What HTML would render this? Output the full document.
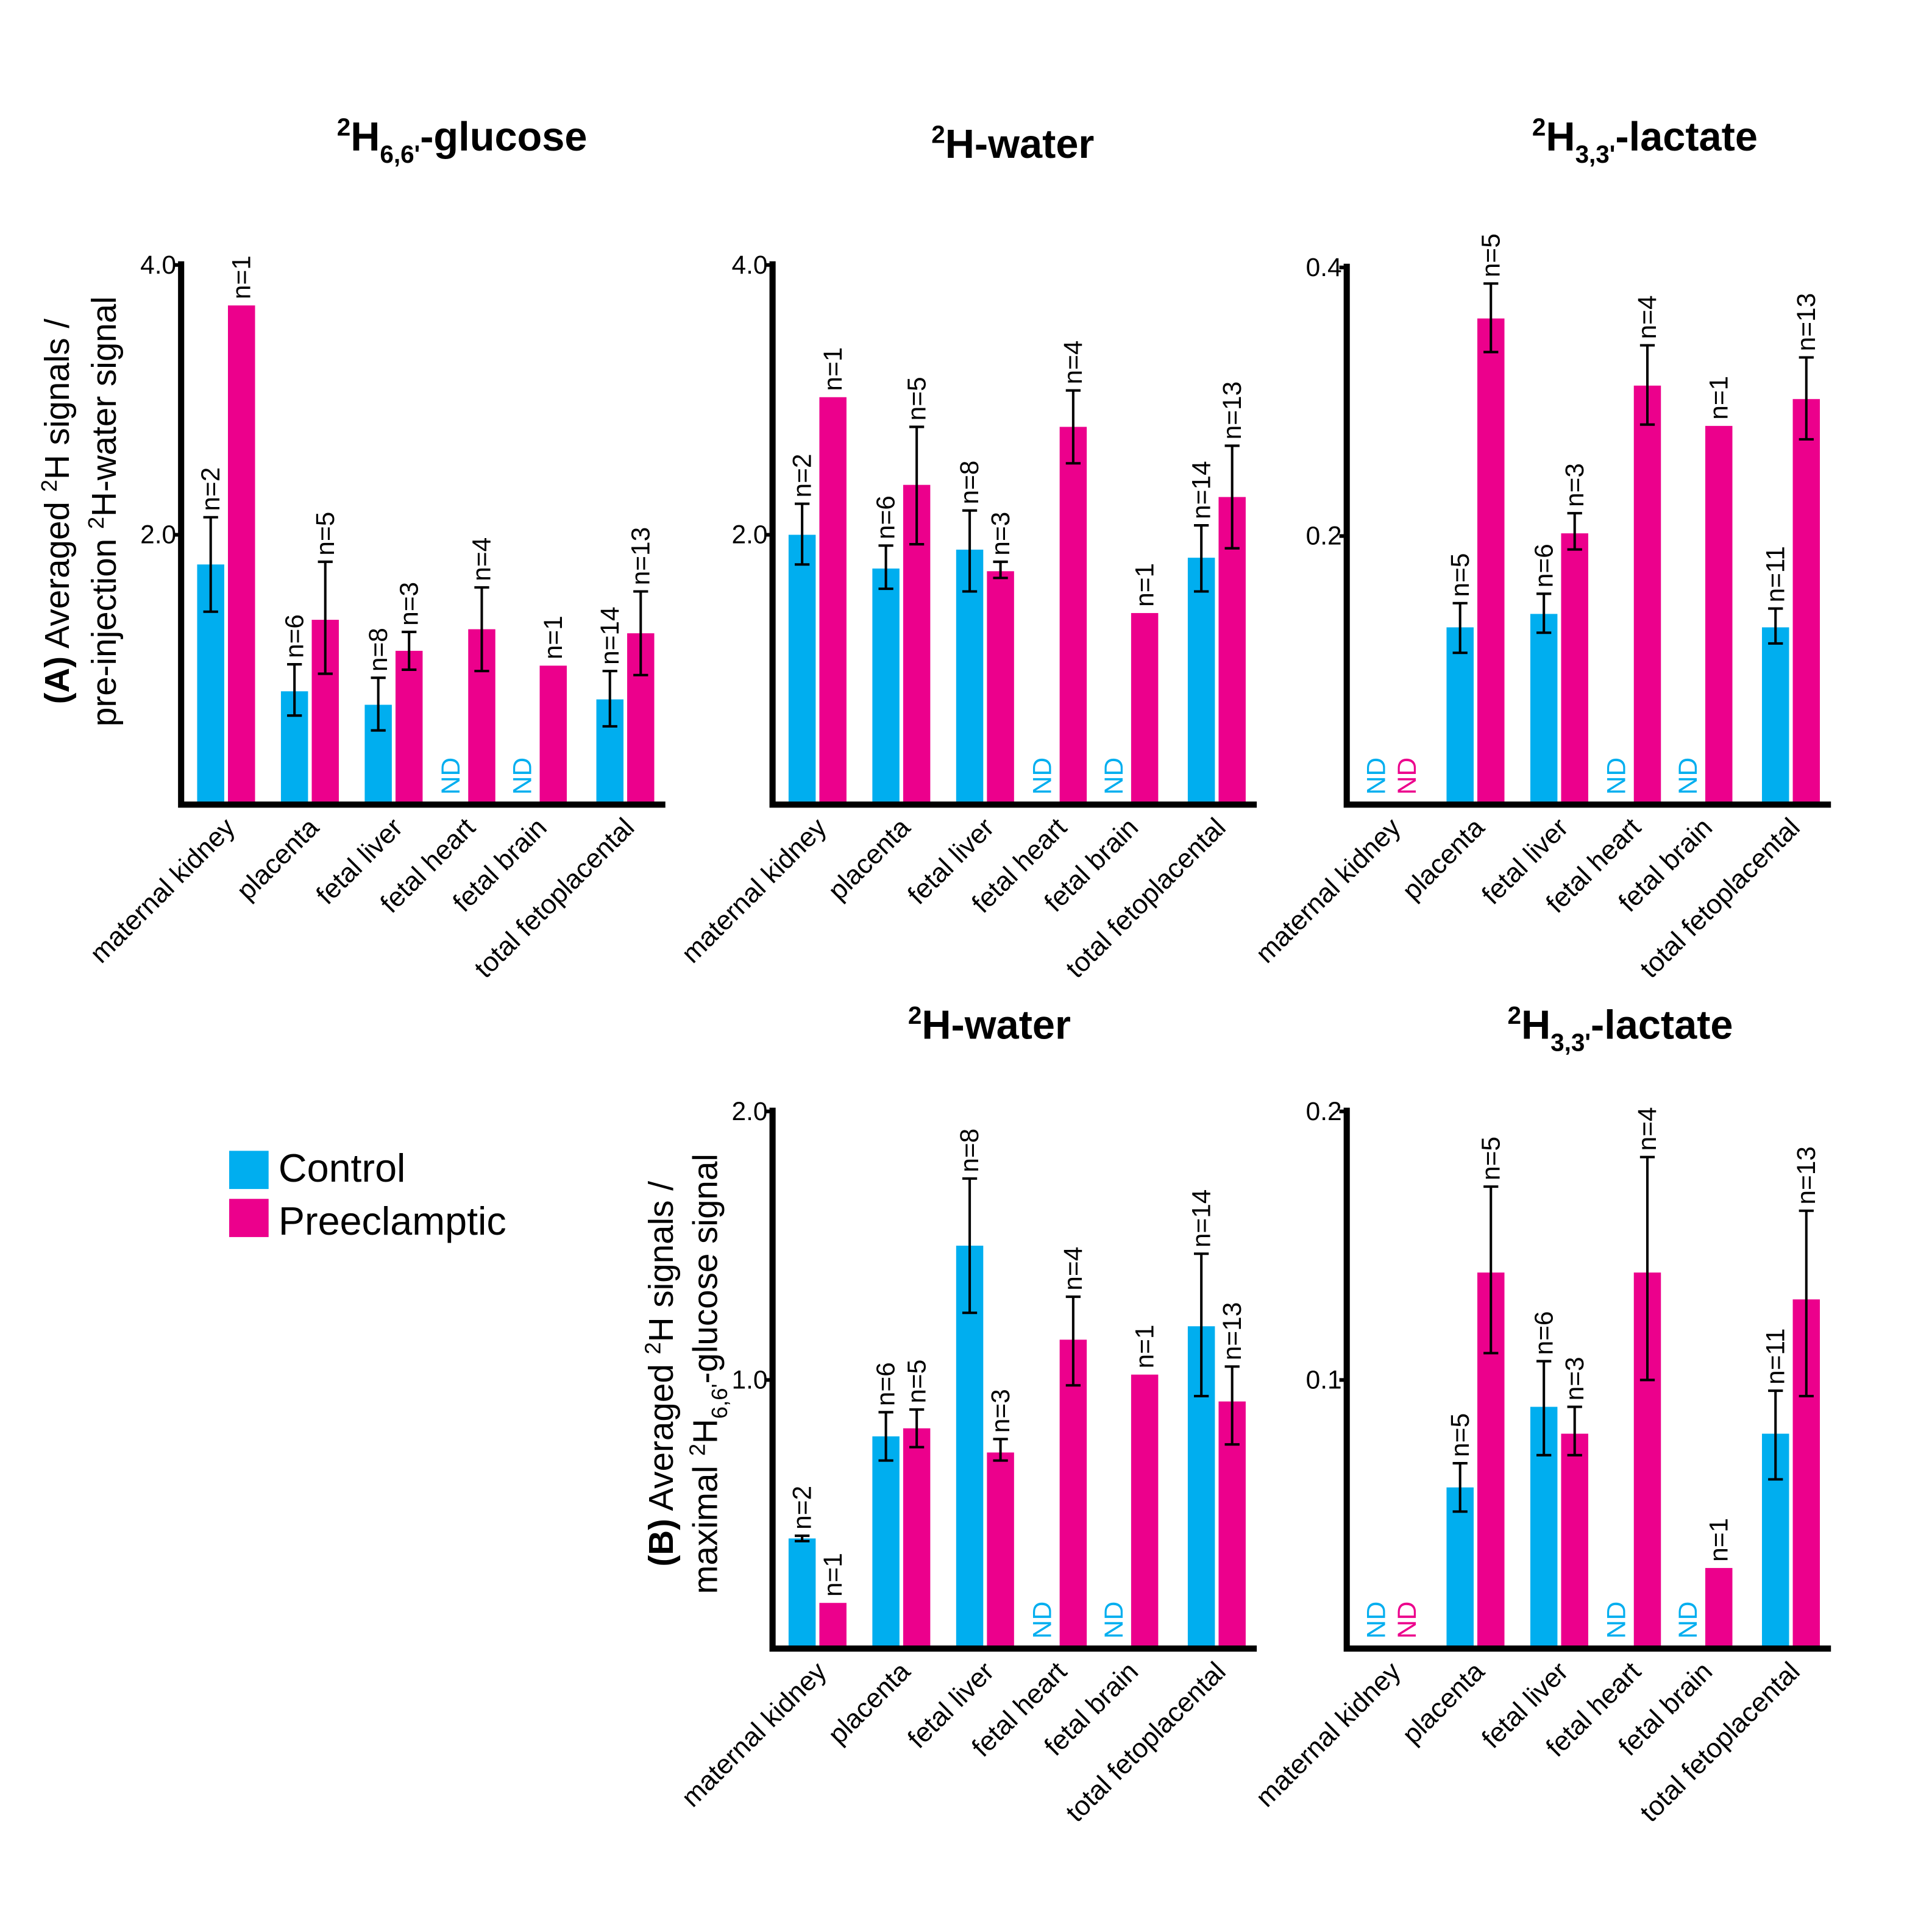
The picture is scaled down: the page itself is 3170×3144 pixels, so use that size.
<!DOCTYPE html>
<html><head><meta charset="utf-8"><style>
html,body{margin:0;padding:0;background:#fff}
svg{display:block}
text{font-family:"Liberation Sans",Arial,sans-serif}
</style></head><body>
<svg id="chart" xmlns="http://www.w3.org/2000/svg" width="3170" height="3144" viewBox="0 0 1568 1555">
<rect width="1568" height="1555" fill="#fff"/>
<g>
<rect x="186" y="934" width="32" height="31" fill="#00AEEF"/>
<text x="226" y="959" font-size="32">Control</text>
<rect x="186" y="973" width="32" height="31" fill="#EC008C"/>
<text x="226" y="1002" font-size="32">Preeclamptic</text>
</g>
<g transform="translate(56,415) rotate(-90)"><text text-anchor="middle" font-size="28"><tspan font-weight="bold">(A)</tspan> Averaged  <tspan dy="-10" font-size="18">2</tspan><tspan dy="10">H signals /</tspan></text></g>
<g transform="translate(94,415) rotate(-90)"><text text-anchor="middle" font-size="28">pre-injection <tspan dy="-10" font-size="18">2</tspan><tspan dy="10">H-water signal</tspan></text></g>
<g transform="translate(546,1115) rotate(-90)"><text text-anchor="middle" font-size="28"><tspan font-weight="bold">(B)</tspan> Averaged <tspan dy="-10" font-size="18">2</tspan><tspan dy="10">H signals /</tspan></text></g>
<g transform="translate(582,1115) rotate(-90)"><text text-anchor="middle" font-size="28">maximal <tspan dy="-10" font-size="18">2</tspan><tspan dy="10">H</tspan><tspan dy="8" font-size="18">6,6'</tspan><tspan dy="-8">-glucose signal</tspan></text></g>
</svg>
<script>
const categories=["maternal kidney","placenta","fetal liver","fetal heart","fetal brain","total fetoplacental"];
// Panel A1: 2H6,6'-glucose
const a1Control=[1.78,0.84,0.74,null,null,0.78];
const a1ControlLo=[1.43,0.66,0.55,null,null,0.58];
const a1ControlHi=[2.13,1.04,0.94,null,null,0.99];
const a1ControlN=["n=2","n=6","n=8","","","n=14"];
const a1Pre=[3.7,1.37,1.14,1.3,1.03,1.27];
const a1PreLo=[null,0.97,1.0,0.99,null,0.96];
const a1PreHi=[null,1.8,1.28,1.61,null,1.58];
const a1PreN=["n=1","n=5","n=3","n=4","n=1","n=13"];
const a1Ticks=["2.0","4.0"];
// Panel A2: 2H-water
const a2Control=[2.0,1.75,1.89,null,null,1.83];
const a2ControlLo=[1.78,1.6,1.58,null,null,1.58];
const a2ControlHi=[2.23,1.92,2.18,null,null,2.07];
const a2ControlN=["n=2","n=6","n=8","","","n=14"];
const a2Pre=[3.02,2.37,1.73,2.8,1.42,2.28];
const a2PreLo=[null,1.93,1.68,2.53,null,1.9];
const a2PreHi=[null,2.8,1.8,3.07,null,2.66];
const a2PreN=["n=1","n=5","n=3","n=4","n=1","n=13"];
const a2Ticks=["2.0","4.0"];
// Panel A3: 2H3,3'-lactate
const a3Control=[null,0.132,0.142,null,null,0.132];
const a3ControlLo=[null,0.113,0.128,null,null,0.12];
const a3ControlHi=[null,0.15,0.157,null,null,0.146];
const a3ControlN=["","n=5","n=6","","","n=11"];
const a3Pre=[null,0.362,0.202,0.312,0.282,0.302];
const a3PreLo=[null,0.337,0.19,0.283,null,0.272];
const a3PreHi=[null,0.388,0.217,0.342,null,0.333];
const a3PreN=["","n=5","n=3","n=4","n=1","n=13"];
const a3Ticks=["0.2","0.4"];
// Panel B1: 2H-water / glucose
const b1Control=[0.41,0.79,1.5,null,null,1.2];
const b1ControlLo=[0.4,0.7,1.25,null,null,0.94];
const b1ControlHi=[0.42,0.88,1.75,null,null,1.47];
const b1ControlN=["n=2","n=6","n=8","","","n=14"];
const b1Pre=[0.17,0.82,0.73,1.15,1.02,0.92];
const b1PreLo=[null,0.75,0.7,0.98,null,0.76];
const b1PreHi=[null,0.89,0.78,1.31,null,1.05];
const b1PreN=["n=1","n=5","n=3","n=4","n=1","n=13"];
const b1Ticks=["1.0","2.0"];
// Panel B2: 2H3,3'-lactate / glucose
const b2Control=[null,0.06,0.09,null,null,0.08];
const b2ControlLo=[null,0.051,0.072,null,null,0.063];
const b2ControlHi=[null,0.069,0.107,null,null,0.096];
const b2ControlN=["","n=5","n=6","","","n=11"];
const b2Pre=[null,0.14,0.08,0.14,0.03,0.13];
const b2PreLo=[null,0.11,0.072,0.1,null,0.094];
const b2PreHi=[null,0.172,0.09,0.183,null,0.163];
const b2PreN=["","n=5","n=3","n=4","n=1","n=13"];
const b2Ticks=["0.1","0.2"];

const NS="http://www.w3.org/2000/svg";
const svg=document.getElementById('chart');
function mk(tag,attrs,parent){const e=document.createElementNS(NS,tag);for(const k in attrs)e.setAttribute(k,attrs[k]);(parent||svg).appendChild(e);return e;}
const groupOffsets=[13,81,149,208,266,337];

function panel(o){
  const g=mk('g',{});
  
  
  const x0=o.x0, base=o.base, top=o.top, max=o.max;
  const y=v=>base-(v/max)*(base-top);
  const gx=i=>x0+groupOffsets[i];
  const bw=22;
  const t=mk('text',{x:o.tx,y:o.ty,'text-anchor':'middle','font-size':33,'font-weight':'bold'},g);
  
  
  t.innerHTML=o.title;
  const series=[[o.c,o.cLo,o.cHi,o.cN,'#00AEEF',0],[o.p,o.pLo,o.pHi,o.pN,'#EC008C',1]];
  categories.forEach((cat,i)=>{
    series.forEach(s=>{
      const v=s[0][i], bx=gx(i)+s[5]*(bw+3), cx=bx+bw/2;
      if(v==null){
        const nd=mk('text',{transform:`translate(${cx+7},${base-8}) rotate(-90)`,'font-size':21,fill:s[4]},g);
        
        
        nd.textContent='ND';
        return;
      }
      const r=mk('rect',{x:bx,y:y(v),width:bw,height:base-y(v),fill:s[4]},g);
      
      
      let topY=y(v);
      if(s[1][i]!=null){
        const lo=y(s[1][i]),hi=y(s[2][i]);
        const eb=mk('path',{d:`M${cx},${lo}V${hi}M${cx-6},${lo}H${cx+6}M${cx-6},${hi}H${cx+6}`,stroke:'#000','stroke-width':2,fill:'none'},g);
        
        
        topY=Math.min(topY,hi);
      }
      if(s[3][i]){
        const n=mk('text',{transform:`translate(${cx+7},${topY-5}) rotate(-90)`,'font-size':21},g);
        
        
        n.textContent=s[3][i];
      }
    });
    const cl=mk('text',{transform:`translate(${gx(i)+32},${base+20}) rotate(-45)`,'text-anchor':'end','font-size':22},g);
    
    
    cl.textContent=cat;
  });
  const ax=mk('path',{d:`M${x0},${top-3}V${base}H${x0+393}`,stroke:'#000','stroke-width':5,fill:'none'},g);
  
  
  o.ticks.forEach(tl=>{
    const ty=y(parseFloat(tl));
    const tk=mk('line',{x1:x0-6,x2:x0,y1:ty,y2:ty,stroke:'#000','stroke-width':3},g);
    
    
    const tt=mk('text',{x:x0-4,y:ty+7,'text-anchor':'end','font-size':21},g);
    
    
    tt.textContent=tl;
  });
}
const sup2='<tspan dy="-12" font-size="20">2</tspan><tspan dy="12">H</tspan>';
panel({name:'panel-a-glucose',x0:147,base:653,top:215,max:4,tx:375,ty:122,title:sup2+'<tspan dy="10" font-size="20">6,6\'</tspan><tspan dy="-10">-glucose</tspan>',c:a1Control,cLo:a1ControlLo,cHi:a1ControlHi,cN:a1ControlN,p:a1Pre,pLo:a1PreLo,pHi:a1PreHi,pN:a1PreN,ticks:a1Ticks});
panel({name:'panel-a-water',x0:627,base:653,top:215,max:4,tx:822,ty:128,title:sup2+'-water',c:a2Control,cLo:a2ControlLo,cHi:a2ControlHi,cN:a2ControlN,p:a2Pre,pLo:a2PreLo,pHi:a2PreHi,pN:a2PreN,ticks:a2Ticks});
panel({name:'panel-a-lactate',x0:1093,base:653,top:217,max:0.4,tx:1335,ty:122,title:sup2+'<tspan dy="10" font-size="20">3,3\'</tspan><tspan dy="-10">-lactate</tspan>',c:a3Control,cLo:a3ControlLo,cHi:a3ControlHi,cN:a3ControlN,p:a3Pre,pLo:a3PreLo,pHi:a3PreHi,pN:a3PreN,ticks:a3Ticks});
panel({name:'panel-b-water',x0:627,base:1338,top:902,max:2,tx:803,ty:843,title:sup2+'-water',c:b1Control,cLo:b1ControlLo,cHi:b1ControlHi,cN:b1ControlN,p:b1Pre,pLo:b1PreLo,pHi:b1PreHi,pN:b1PreN,ticks:b1Ticks});
panel({name:'panel-b-lactate',x0:1093,base:1338,top:902,max:0.2,tx:1315,ty:843,title:sup2+'<tspan dy="10" font-size="20">3,3\'</tspan><tspan dy="-10">-lactate</tspan>',c:b2Control,cLo:b2ControlLo,cHi:b2ControlHi,cN:b2ControlN,p:b2Pre,pLo:b2PreLo,pHi:b2PreHi,pN:b2PreN,ticks:b2Ticks});
</script>
</body></html>
